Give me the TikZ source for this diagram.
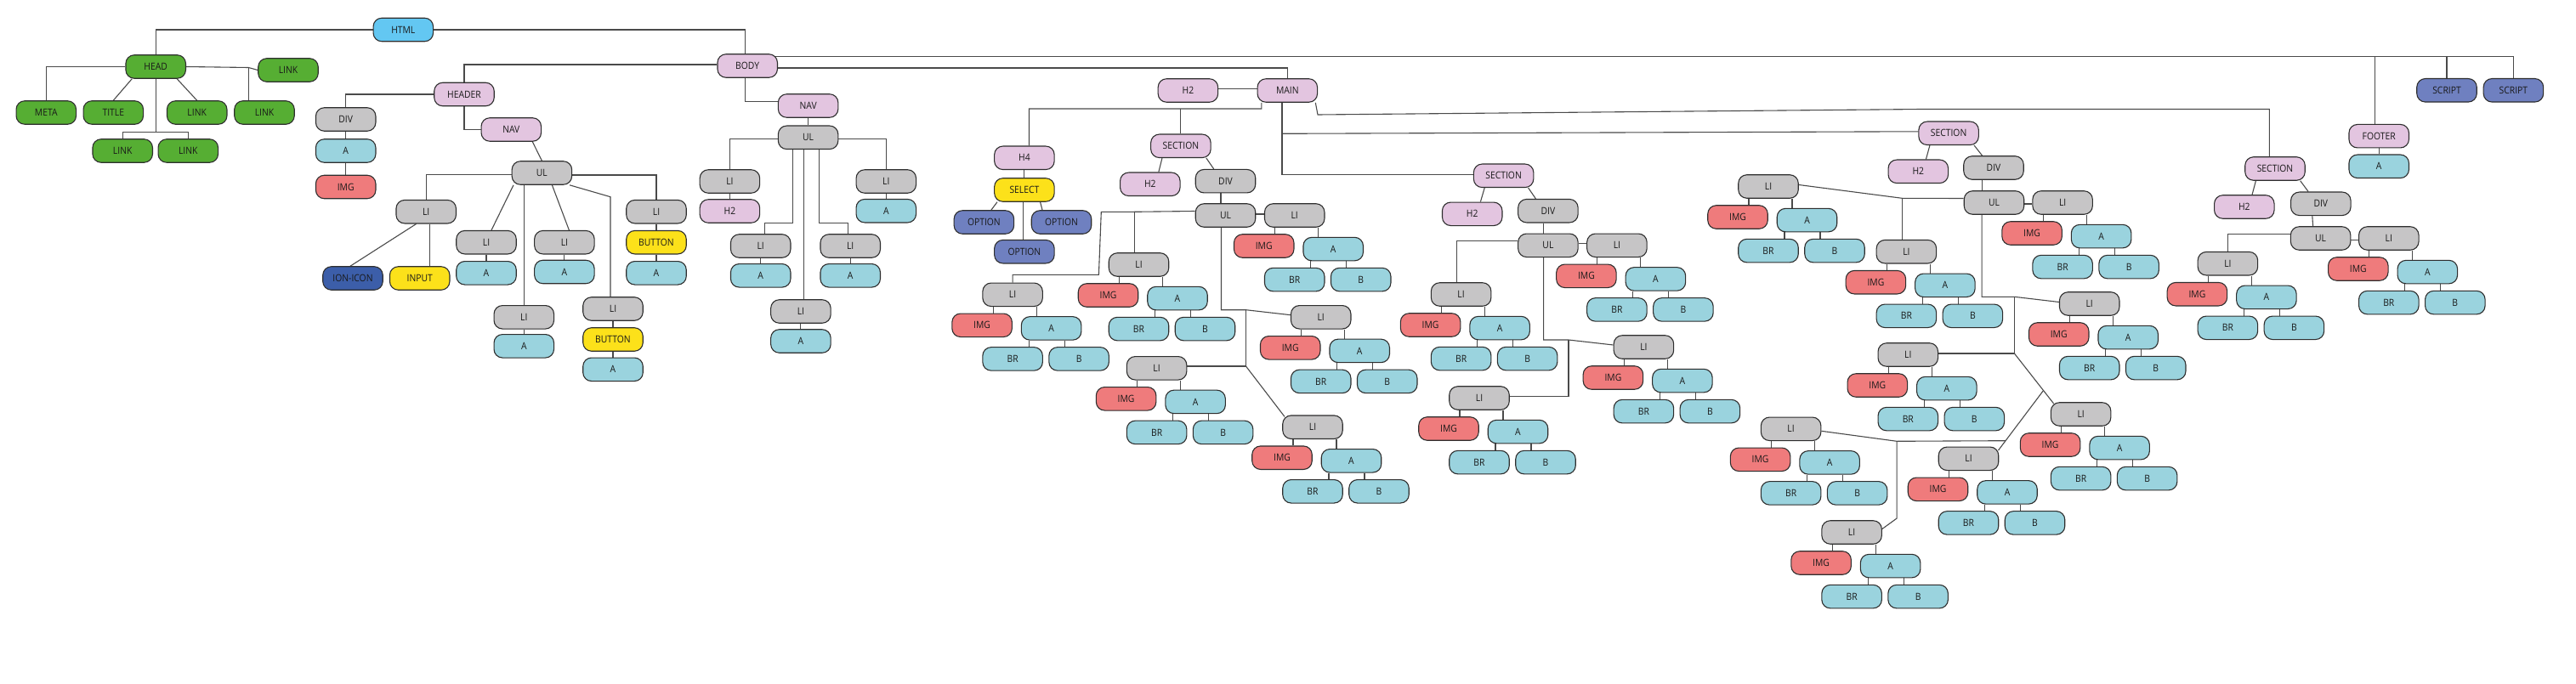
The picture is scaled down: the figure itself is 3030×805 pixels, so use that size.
\documentclass[tikz,border=0pt]{standalone}
\usepackage{fontspec}
\setmainfont{Open Sans}[FakeStretch=0.9]
\usetikzlibrary{backgrounds,calc}
\pgfdeclarelayer{bottom}
\pgfsetlayers{bottom,background,main}
\definecolor{htmlc}{HTML}{63C7F2}
\definecolor{greenc}{HTML}{56AE33}
\definecolor{pinkc}{HTML}{E3C5E0}
\definecolor{grayc}{HTML}{C6C5C6}
\definecolor{bluec}{HTML}{9AD3DE}
\definecolor{redc}{HTML}{EF7B7C}
\definecolor{yellowc}{HTML}{FCE11A}
\definecolor{darkc}{HTML}{3C5EA9}
\definecolor{peric}{HTML}{6F80C0}
\definecolor{borderc}{HTML}{2E2E2E}
\definecolor{linec}{HTML}{4A4A4A}
\newcommand{\ligrp}[3]{%
  \node[cgray] (#1) at (#2,#3) {LI};
  \node[cred] (#1i) at (#2-36,#3+36) {IMG};
  \node[cblue] (#1a) at (#2+45.5,#3+39.6) {A};
  \node[cblue] (#1r) at (#2,#3+75.6) {BR};
  \node[cblue] (#1b) at (#2+78,#3+75.6) {B};
  \begin{pgfonlayer}{background}
  \draw[conn] ([xshift=13pt]#1i.north) -- ([xshift=13pt]#1i.north |- #1.south);
  \draw[conn] ([xshift=-17.5pt]#1a.north) -- ([xshift=-17.5pt]#1a.north |- #1.south);
  \draw[conn] ([xshift=19pt]#1r.north) -- ([xshift=19pt]#1r.north |- #1a.south);
  \draw[conn] ([xshift=-17pt]#1b.north) -- ([xshift=-17pt]#1b.north |- #1a.south);
  \end{pgfonlayer}}
\begin{document}
\begin{tikzpicture}[x=1pt,y=-1pt,
  box/.style={draw=borderc, line width=1.1pt, rounded corners=10pt,
    minimum width=70.5pt, minimum height=27.5pt, inner sep=1pt,
    font=\fontsize{11.5}{12}\selectfont, text=black!90},
  chtml/.style={box,fill=htmlc},
  cgreen/.style={box,fill=greenc},
  cpink/.style={box,fill=pinkc},
  cgray/.style={box,fill=grayc},
  cblue/.style={box,fill=bluec},
  cred/.style={box,fill=redc},
  cyellow/.style={box,fill=yellowc},
  cdark/.style={box,fill=darkc},
  cperi/.style={box,fill=peric},
  conn/.style={draw=linec, line width=1.1pt}]
\begin{pgfonlayer}{bottom}
\fill[white] (0,0) rectangle (3030,805);
\end{pgfonlayer}
\useasboundingbox (0,0) rectangle (3030,805);

% ---------- top / head ----------
\node[chtml] (html) at (474.3,35) {HTML};
\node[cgreen] (head) at (183.2,78.5) {HEAD};
\node[cgreen] (linkr) at (339,82.5) {LINK};
\node[cgreen] (meta) at (54.3,132.5) {META};
\node[cgreen] (title) at (133.3,132.5) {TITLE};
\node[cgreen] (link1) at (231.7,132.5) {LINK};
\node[cgreen] (link2) at (311,132.5) {LINK};
\node[cgreen] (link3) at (144.2,177.5) {LINK};
\node[cgreen] (link4) at (221.3,177.5) {LINK};

% ---------- header ----------
\node[cpink] (header) at (546,111) {HEADER};
\node[cgray] (div0) at (406.7,140.5) {DIV};
\node[cblue] (a0) at (406.7,177.5) {A};
\node[cred] (img0) at (406.7,220) {IMG};
\node[cpink] (nav0) at (601.3,152.5) {NAV};
\node[cgray] (ul0) at (637.4,203.5) {UL};
\node[cgray] (li01) at (501.2,249.2) {LI};
\node[cdark] (ion) at (415,327.5) {ION-ICON};
\node[cyellow] (input) at (493.7,327.5) {INPUT};
\node[cgray] (li02) at (572,285.2) {LI};
\node[cblue] (a02) at (572,321.3) {A};
\node[cgray] (li03) at (663.9,285.2) {LI};
\node[cblue] (a03) at (663.9,320) {A};
\node[cgray] (li04) at (616.3,373.3) {LI};
\node[cblue] (a04) at (616.3,407.3) {A};
\node[cgray] (li05) at (721,363.5) {LI};
\node[cyellow] (btn05) at (721,399.5) {BUTTON};
\node[cblue] (a05) at (721,434.8) {A};
\node[cgray] (li06) at (772,249.2) {LI};
\node[cyellow] (btn06) at (772,285.2) {BUTTON};
\node[cblue] (a06) at (772,321.3) {A};

% ---------- body / nav ----------
\node[cpink] (body) at (879.2,77.5) {BODY};
\node[cpink] (nav1) at (950.6,124.5) {NAV};
\node[cgray] (ul1) at (950.6,161.8) {UL};
\node[cgray] (li11) at (858.4,213.5) {LI};
\node[cpink] (h211) at (858.4,248.5) {H2};
\node[cgray] (li12) at (1042.3,213.5) {LI};
\node[cblue] (a12) at (1042.3,248.2) {A};
\node[cgray] (li13) at (894.7,289.5) {LI};
\node[cblue] (a13) at (894.7,324.3) {A};
\node[cgray] (li14) at (1000.2,289.5) {LI};
\node[cblue] (a14) at (1000.2,324.3) {A};
\node[cgray] (li15) at (941.9,366.5) {LI};
\node[cblue] (a15) at (941.9,401.5) {A};

% ---------- main ----------
\node[cpink] (main) at (1514.3,106.5) {MAIN};
\node[cpink] (h2m) at (1397.4,106.5) {H2};
\node[cpink] (h4) at (1204.9,185.8) {H4};
\node[cyellow] (select) at (1204.9,223.5) {SELECT};
\node[cperi] (opt1) at (1157.4,261.5) {OPTION};
\node[cperi] (opt2) at (1248.5,261.5) {OPTION};
\node[cperi] (opt3) at (1204.9,296.2) {OPTION};

% section 1
\node[cpink] (sec1) at (1388.9,171.8) {SECTION};
\node[cpink] (h2s1) at (1352.8,216.8) {H2};
\node[cgray] (div1) at (1441.5,213.2) {DIV};
\node[cgray] (ul2) at (1441.5,253.5) {UL};
\ligrp{s1a}{1522.7}{253.5}
\ligrp{s1b}{1339.5}{311.5}
\ligrp{s1c}{1191.1}{346.8}
\ligrp{s1d}{1553.7}{373.3}
\ligrp{s1e}{1360.6}{433.3}
\ligrp{s1f}{1544}{502.7}

% section 2
\node[cpink] (sec2) at (1768.6,206.8) {SECTION};
\node[cpink] (h2s2) at (1731.7,251.8) {H2};
\node[cgray] (div2) at (1820.9,248.2) {DIV};
\node[cgray] (ul3) at (1820.9,288.8) {UL};
\ligrp{s2a}{1901.9}{288.8}
\ligrp{s2b}{1718.6}{346.5}
\ligrp{s2c}{1933.4}{408.5}
\ligrp{s2d}{1740}{468.5}

% section 3
\node[cpink] (sec3) at (2292.1,156.8) {SECTION};
\node[cpink] (h2s3) at (2256.3,201.8) {H2};
\node[cgray] (div3) at (2345,197.5) {DIV};
\node[cgray] (ul4) at (2345.5,238.5) {UL};
\ligrp{s3a}{2080}{219.5}
\ligrp{s3b}{2426.1}{238.5}
\ligrp{s3c}{2242.4}{296.2}
\ligrp{s3d}{2457.7}{357.5}
\ligrp{s3e}{2244.3}{417.5}
\ligrp{s3f}{2447.6}{487.5}
\ligrp{s3g}{2106.6}{504.8}
\ligrp{s3h}{2315.5}{539.8}
\ligrp{s3i}{2178.1}{626.5}

% section 4
\node[cpink] (sec4) at (2676,198.5) {SECTION};
\node[cpink] (h2s4) at (2639.8,243.5) {H2};
\node[cgray] (div4) at (2729.8,239.8) {DIV};
\node[cgray] (ul5) at (2729.6,280.5) {UL};
\ligrp{s4a}{2809.8}{280.5}
\ligrp{s4b}{2620.4}{310.2}

% footer, scripts
\node[cpink] (footer) at (2798.2,160.2) {FOOTER};
\node[cblue] (afoot) at (2798.2,195.8) {A};
\node[cperi] (script1) at (2878,106.3) {SCRIPT};
\node[cperi] (script2) at (2956.4,106.3) {SCRIPT};

\begin{pgfonlayer}{background}
% html
\draw[conn] (html.west) -| (head.north);
\draw[conn] (html.east) -| ([xshift=-3pt]body.north);
% head
\draw[conn] (head.west) -| (meta.north);
\draw[conn] ([xshift=-28pt]head.south) -- (title.north);
\draw[conn] ([xshift=25pt]head.south) -- (link1.north);
\coordinate (hb) at (292.3,79.5);
\draw[conn] (head.east) -- (hb) -- (linkr.west);
\draw[conn] (hb) -- (hb |- link2.north);
\coordinate (hl) at (183.2,155.7);
\draw[conn] (head.south) -- (hl);
\draw[conn] (link3.north) |- (hl) -| (link4.north);
% body
\draw[conn] ([yshift=1.5pt]body.west) -| (header.north);
\draw[conn] ([xshift=-3pt]body.south) |- ([yshift=5pt]nav1.west);
\draw[conn] ([yshift=-2.5pt]body.east) -| (main.north);
\coordinate (bt) at ([xshift=-4pt,yshift=11.2pt]body.east);
\draw[conn] (bt) -| (script2.north);
\draw[conn] ([xshift=-4.5pt]footer.north) -- ([xshift=-4.5pt]footer.north |- bt);
\draw[conn] (script1.north) -- (script1.north |- bt);
\draw[conn] (footer) -- (afoot);
% header
\draw[conn] (header.west) -| (div0.north);
\draw[conn] (header.south) |- (nav0.west);
\draw[conn] (div0) -- (a0) -- (img0);
\draw[conn] ([xshift=25pt]nav0.south) -- (ul0.north);
\draw[conn] ([yshift=-2pt]ul0.west) -| (li01.north);
\draw[conn] ([xshift=-33.4pt]ul0.south) -- ([xshift=6pt]li02.north);
\draw[conn] (li04.north) -- (li04.north |- ul0.south);
\draw[conn] ([xshift=12pt]ul0.south) -- ([xshift=5.5pt]li03.north);
\coordinate (u5) at (718,231.7);
\draw[conn] ([xshift=32.6pt]ul0.south) -- (u5) -- (u5 |- li05.north);
\draw[conn] ([yshift=-2.5pt]ul0.east) -| (li06.north);
\draw[conn] ([xshift=-11.6pt]li01.south) -- ([xshift=-3pt]ion.north);
\draw[conn] ([xshift=4.4pt]li01.south) -- ([xshift=4.4pt]li01.south |- input.north);
\draw[conn] (li02) -- (a02);
\draw[conn] (li03) -- (a03);
\draw[conn] (li04) -- (a04);
\draw[conn] (li05) -- (btn05) -- (a05);
\draw[conn] (li06) -- (btn06) -- (a06);
% nav 1
\draw[conn] (nav1) -- (ul1);
\draw[conn] ([yshift=-1.5pt]ul1.west) -| (li11.north);
\draw[conn] ([yshift=-1.5pt]ul1.east) -| (li12.north);
\draw[conn] ([xshift=-18pt]ul1.south) -- ++(0,86.3) -| ([xshift=4.6pt]li13.north);
\draw[conn] ([xshift=13pt]ul1.south) -- ++(0,86.3) -| ([xshift=-3pt]li14.north);
\draw[conn] ([xshift=-4.8pt]ul1.south) -- ([xshift=-4.8pt]ul1.south |- li15.north);
\draw[conn] (li11) -- (h211);
\draw[conn] (li12) -- (a12);
\draw[conn] (li13) -- (a13);
\draw[conn] (li14) -- (a14);
\draw[conn] (li15) -- (a15);
% main
\draw[conn] ([yshift=2pt]h2m.east) -- ([yshift=2pt]main.west);
\coordinate (mh) at (1483.9,128);
\draw[conn] ([xshift=-30.4pt]main.south) -- (mh) -| ([xshift=5.6pt]h4.north);
\draw[conn] (sec1.north) -- (sec1.north |- mh);
\draw[conn] (h4) -- (select);
\draw[conn] ([xshift=-32pt]select.south) -- ([xshift=8.5pt]opt1.north);
\draw[conn] ([xshift=18.7pt]select.south) -- ([xshift=-22.5pt]opt2.north);
\draw[conn] ([xshift=-1.5pt]select.center) -- ([xshift=-1.5pt]opt3.center);
\coordinate (m2) at (1508,157.3);
\draw[conn] ([xshift=-6.3pt]main.south) |- ([yshift=1.5pt]sec2.west);
\draw[conn] (m2) -- ([yshift=2pt]sec3.west);
\draw[conn] ([xshift=33pt]main.south) -- (1550,135) -- (2260,128.5) -| ([xshift=-6.7pt]sec4.north);
% section 1
\draw[conn] ([xshift=-22pt]sec1.south) -- ([xshift=10pt]h2s1.north);
\draw[conn] ([xshift=30pt]sec1.south) -- ([xshift=-13.8pt]div1.north);
\draw[conn] ([xshift=-5.5pt]div1.south) -- ([xshift=-5.5pt]ul2.north);
\draw[conn] ([yshift=1.5pt]ul2.east) -- ([yshift=1.5pt]s1a.west);
\coordinate (u2a) at (1334.1,249.3);
\coordinate (u2b) at (1295.3,249.3);
\draw[conn] ([yshift=5pt]ul2.west) -- (u2a) -- (u2b) -- (1292.4,323.3) -| (s1c.north);
\draw[conn] (u2a) -- (u2a |- s1b.north);
\coordinate (u2c) at (1465.5,364.7);
\coordinate (u2d) at (1465.5,431);
\draw[conn] ([xshift=-5pt]ul2.south) |- (u2c) -- ([yshift=2.6pt]s1d.west);
\draw[conn] (u2c) -- (u2d) -- ([yshift=2.3pt]s1e.east);
\draw[conn] (u2d) -- ([xshift=-33pt,yshift=-2pt]s1f.north);
% section 2
\draw[conn] ([xshift=-22.4pt]sec2.south) -- ([xshift=9.7pt]h2s2.north);
\draw[conn] ([xshift=29pt]sec2.south) -- ([xshift=-14.5pt]div2.north);
\draw[conn] ([xshift=-5.3pt]div2.south) -- ([xshift=-5.3pt]ul3.north);
\draw[conn] ([yshift=2pt]ul3.east) -- ([yshift=2pt]s2a.west);
\draw[conn] ([yshift=5pt]ul3.west) -| ([xshift=-5.3pt]s2b.north);
\coordinate (u3c) at (1845,400);
\coordinate (u3d) at (1845,466.7);
\draw[conn] ([xshift=-5.3pt]ul3.south) |- (u3c) -- ([yshift=2.5pt]s2c.west);
\draw[conn] (u3c) -- (u3d) -- ([yshift=1.8pt]s2d.east);
% section 3
\draw[conn] ([xshift=-22.2pt]sec3.south) -- ([xshift=9.1pt]h2s3.north);
\draw[conn] ([xshift=30pt]sec3.south) -- ([xshift=-13.4pt]div3.north);
\draw[conn] ([xshift=-13.4pt]div3.south) -- ([xshift=-13.4pt]div3.south |- ul4.north);
\draw[conn] ([yshift=-1.5pt]ul4.east) -- ([yshift=-1.5pt]s3b.west);
\coordinate (u4a) at (2237.3,233.3);
\draw[conn] ([yshift=5pt]ul4.west) -- (u4a) -- ([yshift=2pt]s3a.east);
\draw[conn] (u4a) -- (u4a |- s3c.north);
\coordinate (u4b) at (2369.4,349.3);
\coordinate (u4c) at (2369.4,416);
\coordinate (u4d) at (2403.2,460);
\coordinate (u4e) at (2358.9,518.7);
\coordinate (u4f) at (2231.1,519.3);
\coordinate (u4g) at (2231.1,610);
\draw[conn] ([xshift=-14.4pt]ul4.south) |- (u4b) -- ([yshift=2pt]s3d.west);
\draw[conn] (u4b) -- (u4c) -- ([yshift=1.5pt]s3e.east);
\draw[conn] (u4c) -- ([xshift=-32pt,yshift=-1.75pt]s3f.north);
\draw[conn] (u4d) -- ([xshift=35pt,yshift=-4.5pt]s3h.north);
\draw[conn] (u4e) -- (u4f) -- ([yshift=-2.5pt]s3g.east);
\draw[conn] (u4f) -- (u4g) -- ([yshift=4pt]s3i.east);
% section 4
\draw[conn] ([xshift=-22.6pt]sec4.south) -- ([xshift=9.2pt]h2s4.north);
\draw[conn] ([xshift=29.7pt]sec4.south) -- ([xshift=-14.7pt]div4.north);
\draw[conn] ([xshift=-10pt]div4.south) -- ([xshift=-9pt]ul5.north);
\draw[conn] ([yshift=-2pt]ul5.east) -- ([yshift=-2pt]s4a.west);
\draw[conn] ([yshift=5pt]ul5.west) -| (s4b.north);
\end{pgfonlayer}
\end{tikzpicture}
\end{document}
